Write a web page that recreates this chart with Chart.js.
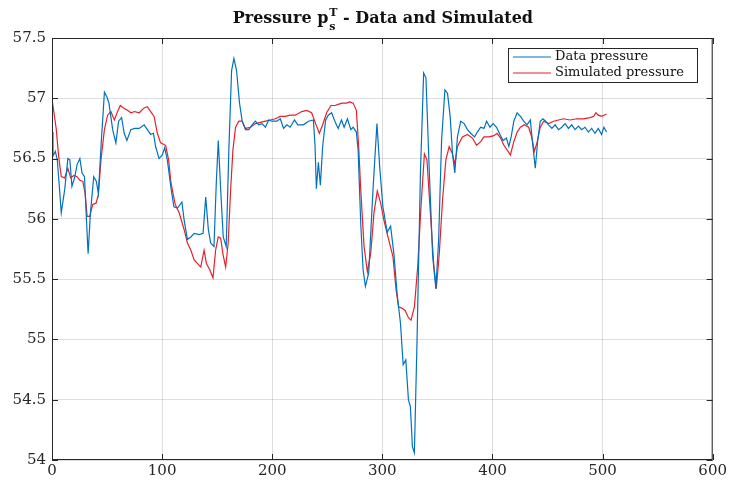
<!DOCTYPE html>
<html lang="en">
<head>
  <meta charset="UTF-8">
  <title>Pressure - Data and Simulated</title>
  <script src="https://cdn.jsdelivr.net/npm/chart.js"></script>
  <style>
    html, body { margin: 0; padding: 0; background: #fff; }
    #wrap { width: 729px; height: 483px; }
  </style>
</head>
<body>
  <div id="wrap"><canvas id="pressureChart" width="729" height="483"></canvas></div>

  <script>
    // measured pressure (time step, value)
    const dataX = [0, 0.9, 3.0, 4.8, 6.9, 8.4, 11.5, 14.4, 16.2, 18.1, 20.5, 22.8, 25.3, 27.3, 29.5, 31.3, 32.8, 34.9, 37.9, 40.3,
      42.1, 44.5, 47.6, 49.9, 51.7, 55.1, 58.0, 60.5, 63.2, 65.6, 68.0, 71.6, 75.2, 79.2, 83.7, 86.6, 89.6, 92.1, 94.1, 97.2,
      100.2, 102.3, 104.7, 108.3, 110.7, 114.0, 118.0, 120.0, 123.0, 126.1, 129.1, 133.6, 137.2, 139.6, 142.0, 144.1, 147.1, 149.2, 151.0, 153.2,
      155.5, 158.2, 160.6, 163.1, 165.2, 167.6, 170.3, 172.7, 175.7, 178.7, 181.7, 184.7, 187.7, 190.7, 193.8, 196.8, 199.7, 204.2, 207.3, 210.3,
      213.3, 216.3, 220.2, 223.2, 228.3, 232.9, 237.4, 238.9, 240.1, 241.9, 243.7, 245.8, 248.5, 250.9, 253.9, 256.9, 259.9, 262.9, 265.3, 268.3,
      271.4, 273.5, 276.4, 278.0, 280.4, 282.5, 284.6, 287.6, 291.5, 295.1, 297.6, 300.5, 304.4, 307.5, 310.5, 313.4, 316.5, 318.9, 321.3, 323.7,
      325.5, 327.3, 329.1, 331.5, 334.6, 337.5, 339.6, 342.7, 345.7, 348.6, 351.1, 353.8, 356.8, 359.2, 361.6, 363.7, 365.8, 368.2, 371.2, 374.3,
      377.3, 380.2, 383.8, 386.3, 389.3, 392.3, 394.7, 397.7, 400.7, 403.7, 406.8, 409.7, 412.7, 414.9, 417.0, 419.4, 422.4, 425.4, 428.4, 431.4,
      434.4, 436.2, 438.9, 441.1, 443.4, 445.8, 448.3, 451.0, 454.0, 456.9, 460.0, 463.0, 466.0, 469.0, 472.0, 475.0, 478.1, 481.0, 484.0, 487.1,
      490.1, 493.1, 496.1, 499.1, 501.2, 503.6];
    const dataP = [56.72, 56.52, 56.56, 56.49, 56.24, 56.05, 56.24, 56.50, 56.49, 56.27, 56.34, 56.45, 56.50, 56.38, 56.35, 55.99, 55.71, 56.05, 56.35, 56.31,
      56.21, 56.60, 57.05, 57.01, 56.96, 56.74, 56.63, 56.81, 56.84, 56.71, 56.65, 56.74, 56.75, 56.75, 56.78, 56.74, 56.70, 56.71, 56.60, 56.50,
      56.53, 56.59, 56.49, 56.24, 56.10, 56.09, 56.14, 55.99, 55.83, 55.85, 55.88, 55.87, 55.88, 56.18, 55.91, 55.80, 55.77, 56.30, 56.65, 56.24,
      55.85, 55.77, 56.57, 57.23, 57.33, 57.23, 56.96, 56.81, 56.74, 56.74, 56.78, 56.81, 56.78, 56.79, 56.76, 56.82, 56.81, 56.81, 56.83, 56.75,
      56.78, 56.76, 56.82, 56.78, 56.78, 56.81, 56.82, 56.60, 56.25, 56.47, 56.28, 56.60, 56.82, 56.86, 56.88, 56.81, 56.75, 56.82, 56.76, 56.83,
      56.74, 56.76, 56.72, 56.57, 55.96, 55.58, 55.44, 55.55, 56.24, 56.79, 56.43, 56.10, 55.89, 55.94, 55.71, 55.38, 55.13, 54.79, 54.83, 54.50,
      54.44, 54.11, 54.06, 54.99, 56.38, 57.21, 57.17, 56.38, 55.69, 55.42, 55.82, 56.65, 57.07, 57.04, 56.85, 56.54, 56.38, 56.68, 56.81, 56.79,
      56.74, 56.71, 56.68, 56.72, 56.76, 56.75, 56.81, 56.76, 56.79, 56.76, 56.70, 56.65, 56.67, 56.60, 56.68, 56.81, 56.88, 56.85, 56.81, 56.78,
      56.82, 56.65, 56.42, 56.65, 56.81, 56.83, 56.81, 56.78, 56.75, 56.78, 56.74, 56.76, 56.79, 56.75, 56.78, 56.74, 56.77, 56.74, 56.76, 56.72,
      56.75, 56.71, 56.75, 56.70, 56.76, 56.72];

    // simulated pressure (time step, value)
    const simX = [0, 1.8, 3.9, 6.0, 8.4, 11.5, 14.4, 16.9, 19.9, 22.8, 25.3, 28.0, 30.1, 31.9, 34.3, 37.0, 40.0, 42.1, 44.5, 47.6,
      50.5, 53.5, 56.6, 59.6, 62.0, 65.0, 68.6, 71.6, 75.2, 79.2, 83.7, 86.6, 89.6, 92.7, 95.7, 98.6, 103.2, 105.9, 108.0, 111.9,
      115.5, 120.0, 123.0, 126.1, 129.1, 132.0, 135.1, 138.1, 140.2, 143.2, 146.2, 148.6, 151.0, 153.2, 155.2, 157.7, 160.0, 162.2, 164.3, 166.7,
      169.7, 172.7, 175.7, 180.2, 184.7, 189.3, 193.8, 198.3, 202.8, 207.3, 211.8, 216.3, 220.8, 226.8, 231.3, 235.8, 239.4, 242.8, 245.8, 249.4,
      253.3, 256.9, 259.9, 263.5, 267.4, 270.5, 273.5, 276.4, 278.5, 280.4, 283.4, 286.4, 289.4, 292.4, 295.4, 298.5, 301.4, 305.1, 309.6, 312.5,
      314.7, 317.7, 320.7, 323.7, 326.1, 329.1, 332.1, 335.1, 338.2, 340.5, 343.6, 346.6, 349.0, 351.7, 354.7, 357.7, 360.7, 363.7, 365.8, 368.2,
      372.7, 377.3, 381.8, 385.6, 389.3, 392.3, 396.8, 401.4, 404.3, 407.3, 410.4, 413.4, 416.3, 419.4, 422.4, 425.4, 429.0, 432.9, 435.9, 438.0,
      440.4, 443.4, 446.5, 451.0, 455.5, 460.0, 464.5, 470.5, 476.5, 482.6, 488.5, 492.1, 493.9, 496.1, 499.1, 503.6];
    const simP = [56.99, 56.88, 56.74, 56.52, 56.35, 56.34, 56.42, 56.34, 56.36, 56.35, 56.32, 56.31, 56.21, 56.02, 56.02, 56.12, 56.13, 56.20, 56.49, 56.74,
      56.86, 56.89, 56.82, 56.89, 56.94, 56.92, 56.90, 56.88, 56.89, 56.88, 56.92, 56.93, 56.89, 56.85, 56.71, 56.63, 56.61, 56.49, 56.30, 56.12,
      56.05, 55.91, 55.80, 55.74, 55.66, 55.63, 55.60, 55.74, 55.63, 55.58, 55.51, 55.74, 55.85, 55.84, 55.71, 55.60, 55.80, 56.24, 56.57, 56.76,
      56.81, 56.81, 56.75, 56.76, 56.79, 56.80, 56.81, 56.82, 56.83, 56.85, 56.85, 56.86, 56.86, 56.89, 56.90, 56.88, 56.79, 56.71, 56.78, 56.88,
      56.94, 56.94, 56.95, 56.96, 56.96, 56.97, 56.96, 56.90, 56.60, 56.24, 55.77, 55.56, 55.71, 56.05, 56.23, 56.13, 55.99, 55.85, 55.69, 55.41,
      55.27, 55.26, 55.24, 55.18, 55.16, 55.27, 55.60, 56.10, 56.54, 56.49, 56.05, 55.63, 55.42, 55.71, 56.16, 56.49, 56.60, 56.54, 56.45, 56.60,
      56.68, 56.70, 56.67, 56.61, 56.64, 56.68, 56.68, 56.69, 56.71, 56.67, 56.61, 56.57, 56.53, 56.64, 56.72, 56.76, 56.78, 56.76, 56.67, 56.56,
      56.63, 56.76, 56.81, 56.79, 56.81, 56.82, 56.83, 56.82, 56.83, 56.83, 56.84, 56.85, 56.88, 56.86, 56.85, 56.87];

    const seriesLabels = ['Data pressure', 'Simulated pressure'];
    const seriesColors = ['#0072BD', '#E8202A'];
    const xTicks = [0, 100, 200, 300, 400, 500, 600];
    const yTicks = [54, 54.5, 55, 55.5, 56, 56.5, 57, 57.5];

    const toPoints = (xs, ys) => xs.map((x, i) => ({ x: x, y: ys[i] }));

    const serif = "'DejaVu Serif', 'Liberation Serif', serif";

    // title with stacked super/subscript on p, box around the axes, inward ticks, legend box
    const decorations = {
      id: 'decorations',
      afterDraw(chart) {
        const ctx = chart.ctx;
        const a = chart.chartArea;
        const xs = chart.scales.x, ys = chart.scales.y;
        ctx.save();

        // axes box
        ctx.strokeStyle = '#262626';
        ctx.lineWidth = 1;
        ctx.strokeRect(a.left + 0.5, a.top + 0.5, a.right - a.left - 1, a.bottom - a.top - 1);

        // inward tick marks
        ctx.beginPath();
        xTicks.forEach(v => {
          const px = Math.round(xs.getPixelForValue(v)) + 0.5;
          ctx.moveTo(px, a.bottom); ctx.lineTo(px, a.bottom - 6);
          ctx.moveTo(px, a.top); ctx.lineTo(px, a.top + 6);
        });
        yTicks.forEach(v => {
          const py = Math.round(ys.getPixelForValue(v)) + 0.5;
          ctx.moveTo(a.left, py); ctx.lineTo(a.left + 6, py);
          ctx.moveTo(a.right, py); ctx.lineTo(a.right - 6, py);
        });
        ctx.stroke();

        // title
        ctx.fillStyle = '#111';
        ctx.textBaseline = 'alphabetic';
        ctx.textAlign = 'left';
        const big = 'bold 16px ' + serif, small = 'bold 11px ' + serif;
        const t1 = 'Pressure p', t2 = ' - Data and Simulated';
        ctx.font = big;
        const w1 = ctx.measureText(t1).width, w3 = ctx.measureText(t2).width;
        ctx.font = small;
        const w2 = Math.max(ctx.measureText('T').width, ctx.measureText('s').width);
        const total = w1 + w2 + w3;
        let x = (a.left + a.right) / 2 - total / 2;
        const base = 23;
        ctx.font = big;
        ctx.fillText(t1, x, base);
        ctx.font = small;
        ctx.fillText('T', x + w1 + 1, base - 7);
        ctx.fillText('s', x + w1 + 1, base + 7);
        ctx.font = big;
        ctx.fillText(t2, x + w1 + w2 + 1, base);

        // legend
        const lx = 508, ly = 48, lw = 189, lh = 34;
        ctx.fillStyle = '#fff';
        ctx.fillRect(lx, ly, lw, lh);
        ctx.strokeStyle = '#262626';
        ctx.lineWidth = 1;
        ctx.strokeRect(lx + 0.5, ly + 0.5, lw, lh);
        ctx.font = '13px ' + serif;
        ctx.textBaseline = 'middle';
        seriesLabels.forEach((lab, i) => {
          const yy = ly + 9 + i * 16;
          ctx.strokeStyle = seriesColors[i];
          ctx.lineWidth = 1.2;
          ctx.beginPath();
          ctx.moveTo(lx + 5, yy); ctx.lineTo(lx + 43, yy);
          ctx.stroke();
          ctx.fillStyle = '#111';
          ctx.fillText(lab, lx + 47, yy);
        });
        ctx.restore();
      }
    };

    new Chart(document.getElementById('pressureChart'), {
      type: 'line',
      data: {
        datasets: [
          {
            label: seriesLabels[0],
            data: toPoints(dataX, dataP),
            borderColor: seriesColors[0],
            borderWidth: 1.2,
            pointRadius: 0,
            fill: false,
            tension: 0
          },
          {
            label: seriesLabels[1],
            data: toPoints(simX, simP),
            borderColor: seriesColors[1],
            borderWidth: 1.2,
            pointRadius: 0,
            fill: false,
            tension: 0
          }
        ]
      },
      options: {
        responsive: false,
        animation: false,
        layout: { padding: { top: 38, right: 12, left: 0, bottom: 0 } },
        plugins: {
          legend: { display: false },
          tooltip: { enabled: false },
          title: { display: false }
        },
        scales: {
          x: {
            type: 'linear',
            min: 0,
            max: 600,
            afterBuildTicks: s => { s.ticks = xTicks.map(v => ({ value: v })); },
            afterFit: s => { s.height = 23; },
            grid: { color: 'rgba(0,0,0,0.13)', drawTicks: false },
            border: { display: false },
            ticks: { color: '#262626', padding: 2, maxRotation: 0, font: { family: serif, size: 15 } }
          },
          y: {
            min: 54,
            max: 57.5,
            afterBuildTicks: s => { s.ticks = yTicks.map(v => ({ value: v })); },
            afterFit: s => { s.width = 52; },
            grid: { color: 'rgba(0,0,0,0.13)', drawTicks: false },
            border: { display: false },
            ticks: { color: '#262626', padding: 6, font: { family: serif, size: 15 }, callback: v => String(v) }
          }
        }
      },
      plugins: [decorations]
    });
  </script>
</body>
</html>
